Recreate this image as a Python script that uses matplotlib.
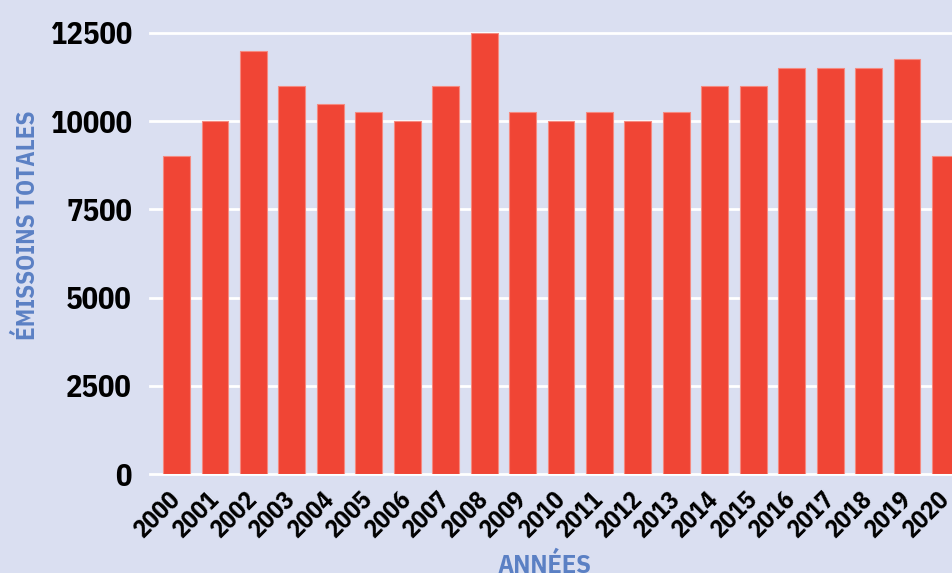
import matplotlib
matplotlib.use("Agg")
import matplotlib.pyplot as plt

# data
years = [str(y) for y in range(2000, 2021)]
emissions = [9000, 10000, 12000, 11000, 10500, 10250, 10000, 11000, 12500, 10250,
             10000, 10250, 10000, 10250, 11000, 11000, 11500, 11500, 11500, 11750, 9000]
y_ticks = [0, 2500, 5000, 7500, 10000, 12500]

BG = "#dadff1"
BAR = "#f04535"
BLUE = "#5b80c4"

plt.rcParams["font.family"] = ["IBM Plex Sans Condensed", "DejaVu Sans"]

W, H = 953, 573
fig = plt.figure(figsize=(W / 100, H / 100), dpi=100, facecolor=BG)
ax = fig.add_axes([150 / W, 99 / H, (972 - 150) / W, 441 / H], facecolor=BG)

x = list(range(len(years)))
ax.bar(x, emissions, width=0.7, color=BAR, edgecolor="#f58a80", linewidth=0.8, zorder=3)

ax.set_xlim(-0.69, len(years) - 1 + 0.69)
ax.set_ylim(0, 12500)
ax.set_yticks(y_ticks)
ax.set_yticklabels([str(v) for v in y_ticks], fontsize=22, fontweight="bold")
ax.set_xticks(x)
ax.set_xticklabels(years, fontsize=18, fontweight="bold", rotation=45,
                   ha="right", va="center", rotation_mode="anchor")
ax.tick_params(axis="y", length=0, pad=13)
ax.tick_params(axis="x", length=0, pad=16)

ax.grid(axis="y", color="white", linewidth=2, zorder=0)
for gl in ax.get_ygridlines():
    gl.set_clip_on(False)
for s in ax.spines.values():
    s.set_visible(False)

ax.set_ylabel("ÉMISSOINS TOTALES", fontsize=18, fontweight="bold", color=BLUE)
ax.set_xlabel("ANNÉES", fontsize=19, fontweight="bold", color=BLUE)
ax.yaxis.set_label_coords(27 / W, (573 - 225) / H, transform=fig.transFigure)
ax.xaxis.set_label_coords(544 / W, (573 - 565) / H, transform=fig.transFigure)
ax.yaxis.label.set_va("center")
ax.xaxis.label.set_va("center")

fig.savefig("out.png", dpi=100, facecolor=BG)
